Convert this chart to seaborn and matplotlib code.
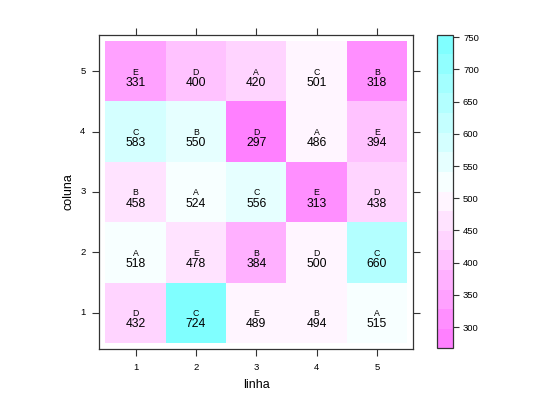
import colorsys
import numpy as np
import pandas as pd
import matplotlib
matplotlib.use("Agg")
import matplotlib.pyplot as plt
from matplotlib.colors import ListedColormap, BoundaryNorm
import seaborn as sns

# data: rows = coluna 1..5 (bottom to top), columns = linha 1..5
linha = [1, 2, 3, 4, 5]
coluna = [1, 2, 3, 4, 5]
trat_c1 = ["D", "C", "E", "B", "A"]
trat_c2 = ["A", "E", "B", "D", "C"]
trat_c3 = ["B", "A", "C", "E", "D"]
trat_c4 = ["C", "B", "D", "A", "E"]
trat_c5 = ["E", "D", "A", "C", "B"]
val_c1 = [432, 724, 489, 494, 515]
val_c2 = [518, 478, 384, 500, 660]
val_c3 = [458, 524, 556, 313, 438]
val_c4 = [583, 550, 297, 486, 394]
val_c5 = [331, 400, 420, 501, 318]
cbar_ticks = [300, 350, 400, 450, 500, 550, 600, 650, 700, 750]

trats = [trat_c1, trat_c2, trat_c3, trat_c4, trat_c5]
vals = np.array([val_c1, val_c2, val_c3, val_c4, val_c5], dtype=float)
df = pd.DataFrame(vals, index=coluna, columns=linha)

# lattice default regions palette: rev(cm.colors(100)), 16 intervals
n = 100
k = n // 2
cm = [colorsys.hsv_to_rgb(6 / 12, s, 1) for s in np.linspace(0.5, 0.5 / k, k)]
cm += [colorsys.hsv_to_rgb(10 / 12, s, 1) for s in np.linspace(0, 0.5, n - k + 1)[1:]]
cm = cm[::-1]
ncuts = 16
idx = np.floor(np.linspace(1, n, ncuts)).astype(int) - 1
cmap = ListedColormap([cm[i] for i in idx])
zmin, zmax = vals.min(), vals.max()
ext = 0.07 * (zmax - zmin)
bounds = np.linspace(zmin - ext, zmax + ext, ncuts + 1)
norm = BoundaryNorm(bounds, cmap.N)

plt.rcParams["font.family"] = ["Liberation Sans", "DejaVu Sans"]
fig = plt.figure(figsize=(5.4, 4.0), dpi=100)
ax = fig.add_axes([0.184, 0.1275, 0.581, 0.785])
cax = fig.add_axes([0.8087, 0.1292, 0.0307, 0.7841])

sns.heatmap(df, ax=ax, cbar_ax=cax, cmap=cmap, norm=norm, annot=False,
            linewidths=0)

ax.set_xlim(-0.1, 5.1)
ax.set_ylim(-0.1, 5.1)
ax.set_facecolor("white")
for sp in ax.spines.values():
    sp.set_visible(True)
    sp.set_color("#333333")
    sp.set_linewidth(0.9)

ax.set_xticks(np.arange(len(linha)) + 0.5)
ax.set_xticklabels([str(v) for v in linha], rotation=0)
ax.set_yticks(np.arange(len(coluna)) + 0.5)
ax.set_yticklabels([str(v) for v in coluna], rotation=0)
ax.tick_params(axis="both", which="both", direction="out", length=5, width=0.8,
               color="#333333", labelsize=6.8, pad=5,
               top=True, right=True, labeltop=False, labelright=False)
ax.set_xlabel("linha", fontsize=9, labelpad=5)
ax.set_ylabel("coluna", fontsize=9, labelpad=4)

for r in range(len(coluna)):
    for c in range(len(linha)):
        ax.text(c + 0.5, r + 0.5 - 0.055, trats[r][c], ha="center",
                va="baseline", fontsize=6.3, color="black")
        ax.text(c + 0.5, r + 0.5 - 0.242, str(int(vals[r, c])), ha="center",
                va="baseline", fontsize=8.7, color="black")

cbar = ax.collections[0].colorbar
cbar.set_ticks(cbar_ticks)
cbar.ax.minorticks_off()
cbar.ax.tick_params(which="both", direction="out", length=4, width=0.8,
                    color="#333333", labelsize=6.8, pad=3)
cbar.ax.tick_params(which="minor", length=0)
cbar.outline.set_edgecolor("#333333")
cbar.outline.set_linewidth(0.9)

fig.savefig("out.png", dpi=100)
